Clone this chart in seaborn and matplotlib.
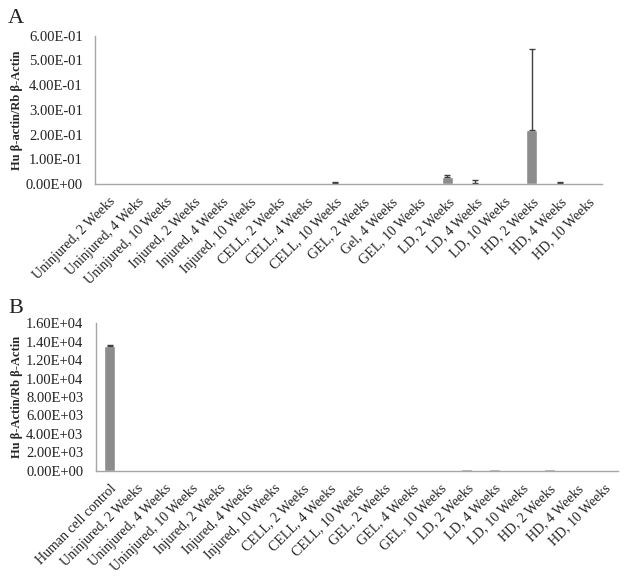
import seaborn as sns
import matplotlib
matplotlib.use("Agg")
import matplotlib.pyplot as plt
import matplotlib.ticker as mticker
import pandas as pd
import numpy as np

# Panel A data
cats_a = ["Uninjured, 2 Weeks", "Uninjured, 4 Weks", "Uninjured, 10 Weeks",
          "Injured, 2 Weeks", "Injured, 4 Weeks", "Injured, 10 Weeks",
          "CELL, 2 Weeks", "CELL, 4 Weeks", "CELL, 10 Weeks",
          "GEL, 2 Weeks", "Gel, 4 Weeks", "GEL, 10 Weeks",
          "LD, 2 Weeks", "LD, 4 Weeks", "LD, 10 Weeks",
          "HD, 2 Weeks", "HD, 4 Weeks", "HD, 10 Weeks"]
vals_a = [0.004, 0.004, 0.004, 0.004, 0.004, 0.004, 0.004, 0.004, 0.005,
          0.004, 0.004, 0.004, 0.027, 0.006, 0.004, 0.218, 0.005, 0.004]
errs_a = [0, 0, 0, 0, 0, 0, 0, 0, 0.002,
          0, 0, 0, 0.011, 0.010, 0, 0.328, 0.002, 0]

# Panel B data
cats_b = ["Human cell control", "Uninjured, 2 Weeks", "Uninjured, 4 Weeks",
          "Uninjured, 10 Weeks", "Injured, 2 Weeks", "Injured, 4 Weeks",
          "Injured, 10 Weeks", "CELL, 2 Weeks", "CELL, 4 Weeks",
          "CELL, 10 Weeks", "GEL, 2 Weeks", "GEL, 4 Weeks", "GEL, 10 Weeks",
          "LD, 2 Weeks", "LD, 4 Weeks", "LD, 10 Weeks",
          "HD, 2 Weeks", "HD, 4 Weeks", "HD, 10 Weeks"]
vals_b = [13550, 0, 0, 0, 0, 0, 0, 0, 0, 0, 0, 0, 0, 150, 150, 0, 150, 0, 0]
errs_b = [80, 0, 0, 0, 0, 0, 0, 0, 0, 0, 0, 0, 0, 0, 0, 0, 0, 0, 0]

sns.set_theme(style="white")
plt.rcParams['font.family'] = ['Liberation Serif', 'DejaVu Serif']

bar_color = "#8c8c8c"
axis_color = "#a6a6a6"

fig = plt.figure(figsize=(6.26, 5.77), dpi=100)


def draw_panel(ax, cats, vals, errs, ylab, ymax, ystep, letter, letter_y):
    df = pd.DataFrame({"cat": cats, "val": vals})
    sns.barplot(data=df, x="cat", y="val", color=bar_color, width=0.4,
                saturation=1, errorbar=None, ax=ax)
    idx = [i for i, e in enumerate(errs) if e > 0]
    ax.errorbar(idx, [vals[i] for i in idx],
                yerr=[np.zeros(len(idx)), [errs[i] for i in idx]],
                fmt="none", ecolor="#404040", elinewidth=1, capsize=2.5, capthick=1)
    ax.set_ylim(0, ymax)
    ax.set_xlim(-0.5, len(cats) - 0.5)
    ax.yaxis.set_major_locator(mticker.MultipleLocator(ystep))
    ax.yaxis.set_major_formatter(mticker.FuncFormatter(lambda v, p: f"{v:.2E}"))
    ax.set_xlabel("")
    ax.set_ylabel(ylab, fontsize=9, fontweight="bold", labelpad=2)
    ax.tick_params(axis="y", length=0, labelsize=10.5, colors="#222222", pad=9)
    ax.tick_params(axis="x", length=0, labelsize=10, colors="#222222", pad=8)
    plt.setp(ax.get_xticklabels(), rotation=45, ha="right", rotation_mode="anchor")
    for side in ["top", "right"]:
        ax.spines[side].set_visible(False)
    for side in ["left", "bottom"]:
        ax.spines[side].set_color(axis_color)
        ax.spines[side].set_linewidth(1)
    ax.grid(False)
    fig.text(0.013, letter_y, letter, fontsize=16, color="#222222", va="baseline")


ax_a = fig.add_axes([0.152, 0.681, 0.810, 0.257])
draw_panel(ax_a, cats_a, vals_a, errs_a, "Hu β-actin/Rb β-Actin", 0.6, 0.1, "A", 0.960)

ax_b = fig.add_axes([0.153, 0.184, 0.834, 0.256])
draw_panel(ax_b, cats_b, vals_b, errs_b, "Hu β-Actin/Rb β-Actin", 16000, 2000, "B", 0.457)

fig.savefig("out.png", dpi=100)
